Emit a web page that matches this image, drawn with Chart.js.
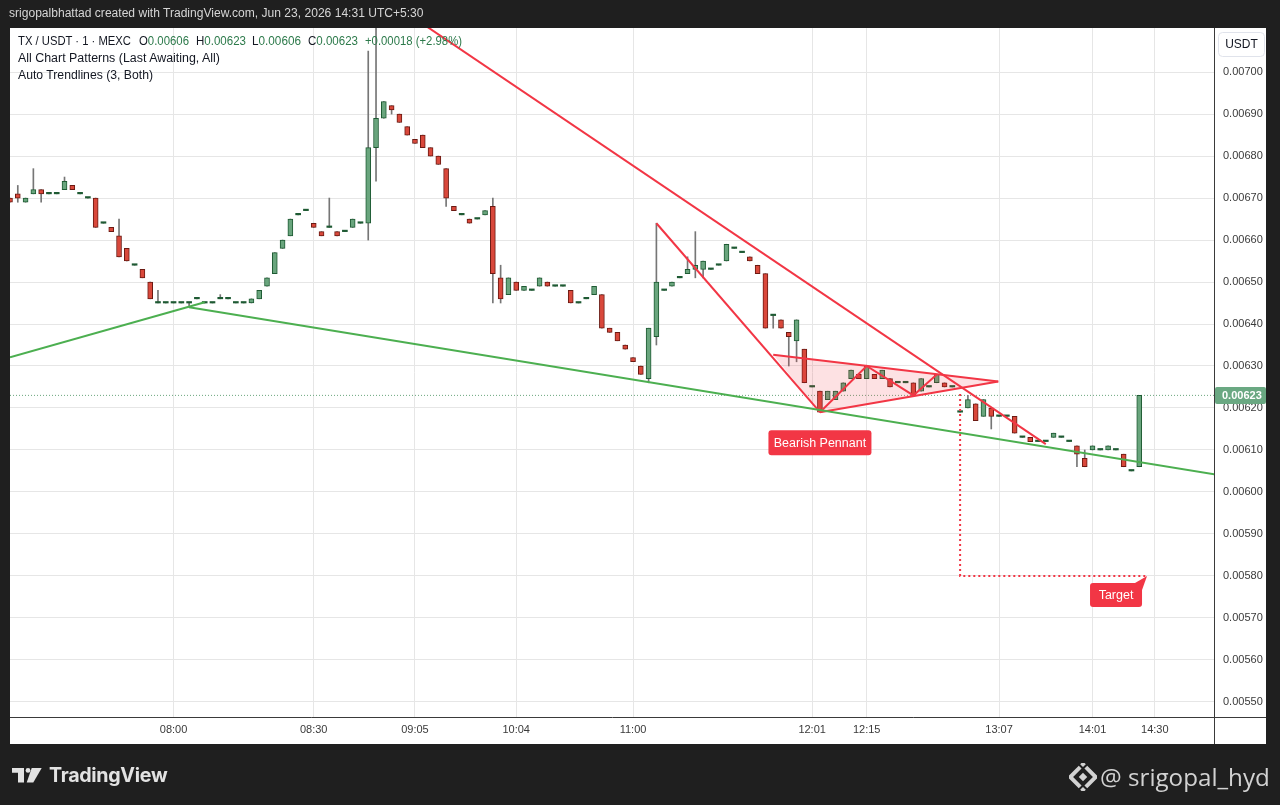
<!DOCTYPE html>
<html>
<head>
<meta charset="utf-8">
<script src="https://cdn.jsdelivr.net/npm/chart.js@4.4.1/dist/chart.umd.min.js"></script>
<style>
html,body{margin:0;padding:0;background:#1f1f1f;width:1280px;height:805px;overflow:hidden;font-family:"Liberation Sans",Arial,sans-serif;}
#panel{position:absolute;left:10px;top:28px;width:1256px;height:716px;background:#ffffff;}
#wrap{position:absolute;left:0;top:0;width:1280px;height:805px;}
.txt{position:absolute;white-space:nowrap;transform-origin:0 50%;}
#header{left:9px;top:5px;line-height:16px;color:#d6d6d6;font-size:13px;}
.leg{font-size:12.5px;line-height:14px;color:#131722;}
.val{color:#2d7a4b;}
#tvtext{left:49px;top:763px;line-height:24px;color:#e2e2e2;font-family:Inter,"Open Sans",sans-serif;font-weight:700;font-size:20px;letter-spacing:-0.3px;}
#handle{left:1100px;top:763px;line-height:28px;color:#d2d2d2;font-family:"Open Sans","Noto Sans",sans-serif;font-size:22px;}
</style>
</head>
<body>
<div id="panel"></div>
<div id="wrap"><canvas id="c" width="1280" height="805"></canvas></div>

<div id="header" class="txt">srigopalbhattad created with TradingView.com, Jun 23, 2026 14:31 UTC+5:30</div>
<div id="l0" class="txt leg" style="left:18px;top:34px;">TX / USDT · 1 · MEXC</div>
<div id="l1" class="txt leg" style="left:139px;top:34px;">O<span class="val">0.00606</span></div>
<div id="l2" class="txt leg" style="left:196px;top:34px;">H<span class="val">0.00623</span></div>
<div id="l3" class="txt leg" style="left:252px;top:34px;">L<span class="val">0.00606</span></div>
<div id="l4" class="txt leg" style="left:308px;top:34px;">C<span class="val">0.00623</span></div>
<div id="l5" class="txt leg val" style="left:365px;top:34px;">+0.00018 (+2.98%)</div>
<div id="l6" class="txt leg" style="left:18px;top:51px;">All Chart Patterns (Last Awaiting, All)</div>
<div id="l7" class="txt leg" style="left:18px;top:68px;">Auto Trendlines (3, Both)</div>

<svg style="position:absolute;left:12px;top:768px" width="32" height="16">
  <path d="M0 0H12V14.5H6V4.7H0Z" fill="#e2e2e2"/>
  <circle cx="16" cy="2.4" r="2.4" fill="#e2e2e2"/>
  <path d="M19.7 0H29.7L21.3 14.5H14.7Z" fill="#e2e2e2"/>
</svg>
<div id="tvtext" class="txt">TradingView</div>

<svg style="position:absolute;left:1069px;top:763px" width="28" height="28" viewBox="0 0 28 28">
  <g fill="#d2d2d2" transform="rotate(45 14 14)">
    <rect x="11" y="11" width="6" height="6"/>
    <rect x="3" y="3" width="4" height="4"/>
    <rect x="21" y="21" width="4" height="4"/>
    <path d="M9 3H25V19H21V7H9Z"/>
    <path d="M3 9H7V21H19V25H3Z"/>
  </g>
</svg>
<div id="handle" class="txt">@ srigopal_hyd</div>

<script>
// ---------- data ----------
const opens  = [0.00670,0.00671,0.00669,0.00671,0.00672,0.00671,0.00671,0.00672,0.00673,0.00671,
                0.00670,0.00670,0.00664,0.00663,0.00661,0.00658,0.00654,0.00653,0.00650,0.00645,
                0.00645,0.00645,0.00645,0.00645,0.00646,0.00645,0.00645,0.00646,0.00646,0.00645,
                0.00645,0.00645,0.00646,0.00649,0.00652,0.00658,0.00661,0.00666,0.00667,0.00664,
                0.00662,0.00663,0.00662,0.00662,0.00663,0.00664,0.00664,0.00682,0.00689,0.00692,
                0.00690,0.00687,0.00684,0.00685,0.00682,0.00680,0.00677,0.00668,0.00666,0.00665,
                0.00665,0.00666,0.00668,0.00651,0.00647,0.00650,0.00648,0.00648,0.00649,0.00650,
                0.00649,0.00649,0.00648,0.00645,0.00646,0.00647,0.00647,0.00639,0.00638,0.00635,
                0.00632,0.00630,0.00627,0.00637,0.00648,0.00649,0.00651,0.00652,0.00653,0.00653,
                0.00653,0.00654,0.00655,0.00658,0.00657,0.00656,0.00654,0.00652,0.00642,0.00641,
                0.00638,0.00636,0.00634,0.00625,0.00624,0.00622,0.00622,0.00624,0.00627,0.00628,
                0.00627,0.00628,0.00627,0.00627,0.00626,0.00626,0.00626,0.00624,0.00625,0.00626,
                0.00626,0.00625,0.00619,0.00620,0.00621,0.00618,0.00620,0.00618,0.00618,0.00618,
                0.00613,0.00613,0.00612,0.00612,0.00613,0.00613,0.00612,0.00611,0.00608,0.00610,
                0.00610,0.00610,0.00610,0.00609,0.00605,0.00606];
const highs  = [0.00670,0.00673,0.00670,0.00677,0.00672,0.00671,0.00671,0.00675,0.00673,0.00671,
                0.00670,0.00670,0.00664,0.00663,0.00665,0.00658,0.00654,0.00653,0.00650,0.00648,
                0.00645,0.00645,0.00645,0.00645,0.00646,0.00645,0.00645,0.00647,0.00646,0.00645,
                0.00645,0.00646,0.00648,0.00651,0.00657,0.00660,0.00665,0.00666,0.00667,0.00664,
                0.00662,0.00670,0.00662,0.00662,0.00665,0.00664,0.00705,0.00719,0.00693,0.00692,
                0.00690,0.00687,0.00684,0.00685,0.00682,0.00680,0.00677,0.00668,0.00666,0.00665,
                0.00665,0.00667,0.00670,0.00654,0.00651,0.00650,0.00649,0.00648,0.00651,0.00650,
                0.00649,0.00649,0.00648,0.00645,0.00646,0.00649,0.00647,0.00639,0.00638,0.00635,
                0.00632,0.00630,0.00639,0.00664,0.00648,0.00650,0.00651,0.00656,0.00662,0.00655,
                0.00653,0.00654,0.00659,0.00658,0.00657,0.00656,0.00654,0.00652,0.00642,0.00641,
                0.00638,0.00641,0.00634,0.00625,0.00624,0.00624,0.00624,0.00626,0.00629,0.00628,
                0.00630,0.00628,0.00629,0.00627,0.00626,0.00626,0.00626,0.00627,0.00625,0.00628,
                0.00626,0.00625,0.00619,0.00623,0.00621,0.00622,0.00620,0.00618,0.00618,0.00618,
                0.00613,0.00613,0.00612,0.00612,0.00614,0.00613,0.00612,0.00611,0.00610,0.00611,
                0.00610,0.00611,0.00610,0.00609,0.00605,0.00623];
const lows   = [0.00669,0.00669,0.00669,0.00671,0.00669,0.00671,0.00671,0.00672,0.00672,0.00671,
                0.00670,0.00663,0.00664,0.00662,0.00656,0.00655,0.00654,0.00651,0.00646,0.00645,
                0.00645,0.00645,0.00645,0.00644,0.00646,0.00645,0.00645,0.00646,0.00646,0.00645,
                0.00645,0.00645,0.00646,0.00649,0.00652,0.00658,0.00661,0.00666,0.00667,0.00663,
                0.00661,0.00663,0.00661,0.00662,0.00663,0.00664,0.00660,0.00674,0.00689,0.00690,
                0.00688,0.00685,0.00683,0.00682,0.00680,0.00678,0.00668,0.00667,0.00666,0.00664,
                0.00665,0.00666,0.00645,0.00645,0.00647,0.00648,0.00648,0.00648,0.00649,0.00649,
                0.00649,0.00649,0.00645,0.00645,0.00646,0.00647,0.00639,0.00638,0.00636,0.00634,
                0.00631,0.00628,0.00626,0.00635,0.00648,0.00649,0.00651,0.00652,0.00651,0.00651,
                0.00653,0.00654,0.00655,0.00658,0.00657,0.00655,0.00652,0.00639,0.00639,0.00639,
                0.00630,0.00631,0.00626,0.00625,0.00619,0.00622,0.00622,0.00624,0.00627,0.00627,
                0.00627,0.00627,0.00627,0.00625,0.00626,0.00626,0.00623,0.00624,0.00625,0.00626,
                0.00625,0.00625,0.00619,0.00620,0.00617,0.00618,0.00615,0.00618,0.00618,0.00614,
                0.00613,0.00612,0.00612,0.00612,0.00613,0.00613,0.00612,0.00606,0.00606,0.00610,
                0.00610,0.00610,0.00610,0.00606,0.00605,0.00606];
const closes = [0.00669,0.00670,0.00670,0.00672,0.00671,0.00671,0.00671,0.00674,0.00672,0.00671,
                0.00670,0.00663,0.00664,0.00662,0.00656,0.00655,0.00654,0.00651,0.00646,0.00645,
                0.00645,0.00645,0.00645,0.00645,0.00646,0.00645,0.00645,0.00646,0.00646,0.00645,
                0.00645,0.00646,0.00648,0.00651,0.00657,0.00660,0.00665,0.00666,0.00667,0.00663,
                0.00661,0.00663,0.00661,0.00662,0.00665,0.00664,0.00682,0.00689,0.00693,0.00691,
                0.00688,0.00685,0.00683,0.00682,0.00680,0.00678,0.00670,0.00667,0.00666,0.00664,
                0.00665,0.00667,0.00652,0.00646,0.00651,0.00648,0.00649,0.00648,0.00651,0.00649,
                0.00649,0.00649,0.00645,0.00645,0.00646,0.00649,0.00639,0.00638,0.00636,0.00634,
                0.00631,0.00628,0.00639,0.00650,0.00648,0.00650,0.00651,0.00653,0.00654,0.00655,
                0.00653,0.00654,0.00659,0.00658,0.00657,0.00655,0.00652,0.00639,0.00642,0.00639,
                0.00637,0.00641,0.00626,0.00625,0.00619,0.00624,0.00624,0.00626,0.00629,0.00627,
                0.00630,0.00627,0.00629,0.00625,0.00626,0.00626,0.00623,0.00627,0.00625,0.00628,
                0.00625,0.00625,0.00619,0.00622,0.00617,0.00622,0.00618,0.00618,0.00618,0.00614,
                0.00613,0.00612,0.00612,0.00612,0.00614,0.00613,0.00612,0.00609,0.00606,0.00611,
                0.00610,0.00611,0.00610,0.00606,0.00605,0.00623];

const timeTickIndex  = [21, 39, 52, 65, 80, 103, 110, 127, 139, 147];
const timeTickLabels = ['08:00','08:30','09:05','10:04','11:00','12:01','12:15','13:07','14:01','14:30'];
const priceTicks = [0.00550,0.00560,0.00570,0.00580,0.00590,0.00600,0.00610,0.00620,
                    0.00630,0.00640,0.00650,0.00660,0.00670,0.00680,0.00690,0.00700];

// auto trendlines / pattern (bar index, price)
const greenUpX = [0, 25],        greenUpY = [0.006321, 0.006452];
const greenDownX = [23, 155],    greenDownY = [0.006440, 0.006041];
const redTrendX = [47, 133],     redTrendY = [0.007190, 0.006114];
const poleX = [83, 104],         poleY = [0.006640, 0.006190];
const pennantUpperX = [98, 126.9],  pennantUpperY = [0.006327, 0.006263];
const pennantLowerX = [104, 126.9], pennantLowerY = [0.006190, 0.006263];
const zigzagX = [104, 110, 116, 119], zigzagY = [0.006190, 0.006300, 0.006230, 0.006280];
const targetX = [122, 122, 146], targetY = [0.006233, 0.005800, 0.005800];
const patternLabel = 'Bearish Pennant';
const targetLabel = 'Target';

// ---------- view ----------
const X_MIN = 0, X_MAX = 154.6;
const Y_MIN = 0.005464, Y_MAX = 0.007105;
const PANEL = {left: 10, top: 28, right: 1266, bottom: 744};

const UP_FILL = '#69a57d', UP_BORDER = '#1e5a33';
const DN_FILL = '#d9483b', DN_BORDER = '#6b1a13';
const WICK = '#767676', RED = '#f23645', GREEN = '#4caf50';
const FONT = '"Liberation Sans", Arial, sans-serif';

const pts = (xs, ys) => xs.map((x, i) => ({x: x, y: ys[i]}));
const last = closes.length - 1;

function bodyColor(i, fillMode) {
  if (i === undefined) return UP_FILL;
  const o = opens[i], c = closes[i];
  if (c > o) return fillMode ? UP_FILL : UP_BORDER;
  if (c < o) return fillMode ? DN_FILL : DN_BORDER;
  return UP_BORDER;
}

const lineDs = (data, color, extra) => Object.assign({
  type: 'line', data: data, borderColor: color, borderWidth: 2,
  pointRadius: 0, fill: false, tension: 0, order: -1
}, extra || {});

const overlay = {
  id: 'overlay',
  afterDraw(chart) {
    const {ctx, chartArea: a, scales: {x, y}} = chart;
    ctx.save();
    ctx.strokeStyle = '#3a3a3a'; ctx.lineWidth = 1;
    ctx.beginPath();
    ctx.moveTo(Math.round(a.right) + 0.5, a.bottom); ctx.lineTo(Math.round(a.right) + 0.5, PANEL.bottom);
    ctx.moveTo(a.right, Math.round(a.bottom) + 0.5); ctx.lineTo(PANEL.right, Math.round(a.bottom) + 0.5);
    ctx.stroke();

    // USDT button
    ctx.strokeStyle = '#e0e3eb'; ctx.fillStyle = '#ffffff';
    ctx.beginPath(); ctx.roundRect(1218.5, 32.5, 46, 24, 4); ctx.fill(); ctx.stroke();
    ctx.fillStyle = '#131722'; ctx.font = '12px ' + FONT;
    ctx.textAlign = 'center'; ctx.textBaseline = 'middle';
    ctx.fillText('USDT', 1241.5, 45);

    // last price tag
    const py = y.getPixelForValue(closes[last]);
    ctx.fillStyle = '#6aa882';
    ctx.beginPath(); ctx.roundRect(a.right + 1, py - 8.5, 51, 17, 2); ctx.fill();
    ctx.fillStyle = '#ffffff'; ctx.font = 'bold 11px ' + FONT;
    ctx.textAlign = 'left';
    ctx.fillText(closes[last].toFixed(5), a.right + 8, py + 0.5);

    // pattern label
    ctx.font = '12.5px ' + FONT;
    const bx = x.getPixelForValue(pennantLowerX[0]);
    const by = y.getPixelForValue(pennantLowerY[0]) + 18;
    const bw = 103, bh = 25;
    ctx.fillStyle = RED;
    ctx.beginPath(); ctx.roundRect(bx - bw / 2, by, bw, bh, 3); ctx.fill();
    ctx.fillStyle = '#ffffff'; ctx.textAlign = 'center';
    ctx.fillText(patternLabel, bx, by + bh / 2 + 0.5);

    // target label with tail
    const tx = x.getPixelForValue(targetX[2]);
    const ty = y.getPixelForValue(targetY[2]);
    const tw = 52, th = 24;
    const right = tx - 5, top = ty + 7;
    ctx.fillStyle = RED;
    ctx.beginPath(); ctx.roundRect(right - tw, top, tw, th, 3); ctx.fill();
    ctx.beginPath(); ctx.moveTo(right - 7, top); ctx.lineTo(tx, ty); ctx.lineTo(right, top + 7); ctx.closePath(); ctx.fill();
    ctx.fillStyle = '#ffffff';
    ctx.fillText(targetLabel, right - tw / 2, top + th / 2 + 0.5);
    ctx.restore();
  }
};

Chart.defaults.font.family = FONT;

new Chart(document.getElementById('c'), {
  type: 'bar',
  data: {
    datasets: [
      {
        label: 'body',
        data: opens.map((o, i) => ({x: i, y: [o, closes[i]]})),
        barThickness: 5, grouped: false, borderSkipped: false, minBarLength: 1.5,
        backgroundColor: c => bodyColor(c.dataIndex, true),
        borderColor: c => bodyColor(c.dataIndex, false),
        borderWidth: c => (c.dataIndex !== undefined && opens[c.dataIndex] === closes[c.dataIndex]) ? 0 : 1,
        order: 1
      },
      {
        label: 'wick',
        data: lows.map((l, i) => ({x: i, y: [l, highs[i]]})),
        barThickness: 1, grouped: false, borderWidth: 0,
        backgroundColor: WICK, order: 2
      },
      lineDs(pts([X_MIN, X_MAX], [closes[last], closes[last]]), UP_FILL, {borderWidth: 1, borderDash: [1, 2], order: 3}),
      lineDs([
        {x: pennantUpperX[0], y: pennantUpperY[0]},
        {x: pennantUpperX[1], y: pennantUpperY[1]},
        {x: pennantLowerX[0], y: pennantLowerY[0]},
        {x: pennantUpperX[0], y: pennantUpperY[0]}
      ], 'rgba(0,0,0,0)', {borderWidth: 0, fill: 'shape', backgroundColor: 'rgba(242,54,69,0.15)', order: 0}),
      lineDs(pts(greenUpX, greenUpY), GREEN),
      lineDs(pts(greenDownX, greenDownY), GREEN),
      lineDs(pts(redTrendX, redTrendY), RED),
      lineDs(pts(poleX, poleY), RED),
      lineDs(pts(pennantUpperX, pennantUpperY), RED),
      lineDs(pts(pennantLowerX, pennantLowerY), RED),
      lineDs(pts(zigzagX, zigzagY), RED),
      lineDs(pts(targetX, targetY), RED, {borderDash: [2, 3]})
    ]
  },
  options: {
    responsive: false, animation: false,
    layout: {padding: {left: PANEL.left, top: PANEL.top, right: 1280 - PANEL.right, bottom: 805 - PANEL.bottom}},
    plugins: {legend: {display: false}, tooltip: {enabled: false}},
    scales: {
      x: {
        type: 'linear', min: X_MIN, max: X_MAX, offset: false,
        afterBuildTicks: s => { s.ticks = timeTickIndex.map(v => ({value: v})); },
        afterFit: s => { s.height = 27; },
        grid: {color: '#e6e6e6', drawTicks: false, offset: false},
        border: {display: true, color: '#3a3a3a'},
        ticks: {autoSkip: false, maxRotation: 0, padding: 6, color: '#3a3a3a', font: {size: 11},
                callback: (v, idx) => timeTickLabels[idx]}
      },
      y: {
        type: 'linear', position: 'right', min: Y_MIN, max: Y_MAX,
        afterBuildTicks: s => { s.ticks = priceTicks.map(v => ({value: v})); },
        afterFit: s => { s.width = 52; },
        grid: {color: '#e6e6e6', drawTicks: false},
        border: {display: true, color: '#3a3a3a'},
        ticks: {autoSkip: false, padding: 9, color: '#3a3a3a', font: {size: 11},
                callback: v => Number(v).toFixed(5)}
      }
    }
  },
  plugins: [overlay]
});

// fit free text widths to the reference
function fit(id, w) {
  const el = document.getElementById(id);
  el.style.fontSize = '100px';
  const r = el.getBoundingClientRect().width;
  el.style.fontSize = (100 * w / r) + 'px';
}
function squeeze(id, w) {
  const el = document.getElementById(id);
  const r = el.getBoundingClientRect().width;
  el.style.transform = 'scaleX(' + (w / r) + ')';
}
fit('header', 415);
squeeze('l0', 113); squeeze('l1', 50); squeeze('l2', 50); squeeze('l3', 49); squeeze('l4', 50); squeeze('l5', 97);
squeeze('l6', 202); squeeze('l7', 135);
fit('tvtext', 121);
fit('handle', 170);
</script>
</body>
</html>
